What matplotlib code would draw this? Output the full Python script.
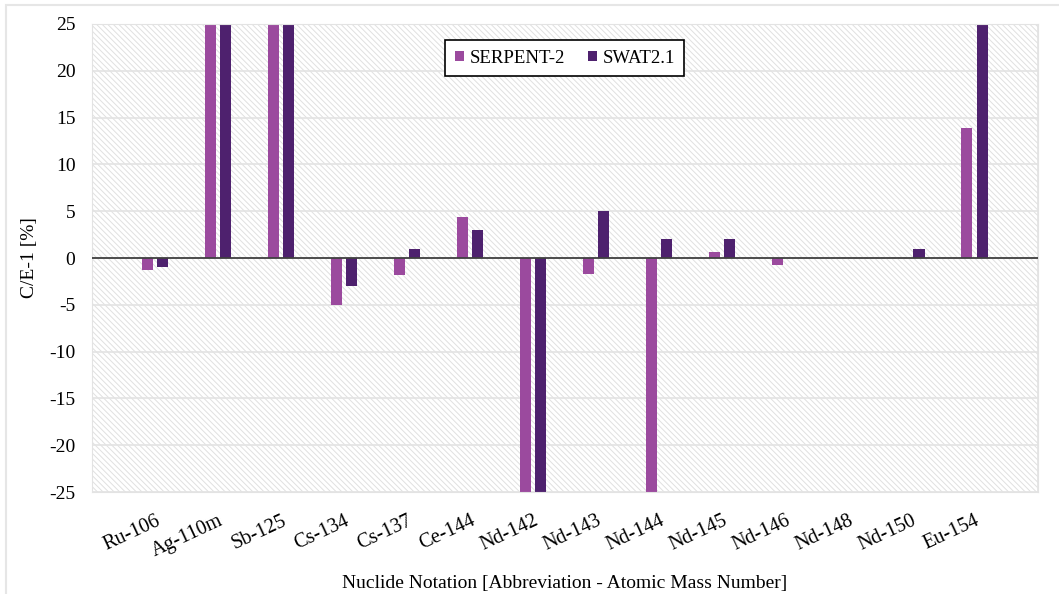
import matplotlib.pyplot as plt
import numpy as np
from matplotlib.patches import Rectangle

nuclides = ['Ru-106', 'Ag-110m', 'Sb-125', 'Cs-134', 'Cs-137', 'Ce-144', 'Nd-142',
            'Nd-143', 'Nd-144', 'Nd-145', 'Nd-146', 'Nd-148', 'Nd-150', 'Eu-154']
# values beyond +/-25 run off the chart in the original
serpent = [-1.3, 40.0, 40.0, -5.0, -1.8, 4.4, -40.0, -1.75, -40.0, 0.6, -0.8, 0.0, 0.0, 13.9]
swat = [-1.0, 40.0, 40.0, -3.0, 1.0, 3.0, -40.0, 5.0, 2.0, 2.0, 0.0, 0.0, 1.0, 40.0]
yticks = [-25, -20, -15, -10, -5, 0, 5, 10, 15, 20, 25]

plt.rcParams['font.family'] = ['Liberation Serif', 'DejaVu Serif']
plt.rcParams['axes.unicode_minus'] = False
plt.rcParams['hatch.linewidth'] = 0.7

fig = plt.figure(figsize=(10.59, 5.94), dpi=100)
ax = fig.add_axes([0.0869, 0.1717, 0.8928, 0.7879])

# light outer frame like the exported chart area
fig.patches.append(Rectangle((6 / 1059, -0.05), 1.1, 1 - 5 / 594 + 0.05, transform=fig.transFigure,
                             fill=False, edgecolor='#e6e6e6', linewidth=1.5))

x = np.arange(len(nuclides))
w = 0.175
off = 0.12

# hatched background
ax.add_patch(Rectangle((0, 0), 1, 1, transform=ax.transAxes, facecolor='white',
                       edgecolor='#e0e0e0', linewidth=0, hatch='\\' * 6, zorder=0))
ax.set_axisbelow(True)
ax.yaxis.grid(True, color='#e3e3e3', linewidth=1.2, zorder=0.5)
ax.set_xticks(np.arange(-1, len(nuclides) + 1), minor=True)
ax.xaxis.grid(True, which='minor', color='#e3e3e3', linewidth=1.2, zorder=0.5)

ax.bar(x - off, serpent, width=w, color='#9b4a9e', label='SERPENT-2', zorder=2)
ax.bar(x + off, swat, width=w, color='#4e216e', label='SWAT2.1', zorder=2)
ax.axhline(0, color='#404040', linewidth=1.3, zorder=3)

ax.set_xlim(-1, len(nuclides))
ax.set_ylim(-25, 25)
ax.set_yticks(yticks)
ax.set_xticks(x)
ax.set_xticklabels(nuclides, rotation=25, ha='right', rotation_mode='anchor', fontsize=14.5)
ax.tick_params(axis='y', labelsize=14, length=0, pad=12)
ax.tick_params(axis='x', which='both', length=0, pad=14)
for s in ax.spines.values():
    s.set_color('#e3e3e3')

ax.set_ylabel('C/E-1 [%]', fontsize=14, labelpad=8)
ax.set_xlabel('Nuclide Notation [Abbreviation - Atomic Mass Number]', fontsize=14, labelpad=10)

leg = ax.legend(loc='upper center', bbox_to_anchor=(0.5, 0.985), ncol=2, fontsize=13.5,
                frameon=True, fancybox=False, handlelength=0.5, handleheight=0.5,
                handletextpad=0.3, columnspacing=1.2, borderpad=0.5)
leg.get_frame().set_edgecolor('black')
leg.get_frame().set_linewidth(1.2)
leg.get_frame().set_alpha(1)

fig.savefig('out.png', dpi=100)
